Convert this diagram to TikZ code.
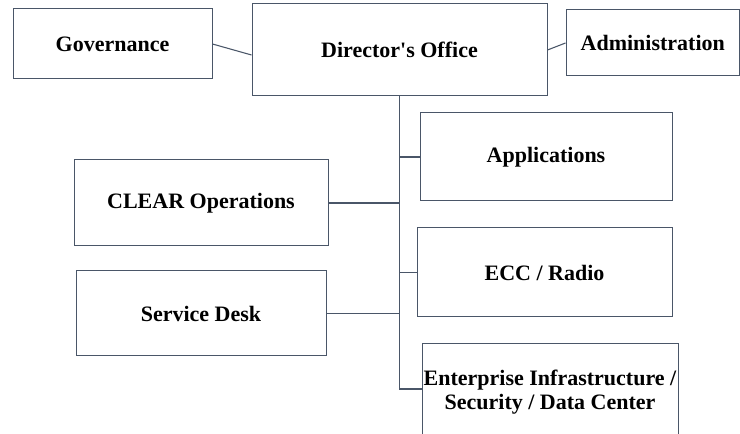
\documentclass[tikz,border=0pt]{standalone}
\usepackage{fontspec}
\setmainfont{Liberation Serif}
\definecolor{boxline}{HTML}{4A5668}

\begin{document}
\begin{tikzpicture}[x=0.75pt,y=-0.75pt,
    unit/.style = {draw=boxline, line width=0.75pt, fill=white, align=center,
                   inner sep=0pt, font=\bfseries\fontsize{16.5}{18}\selectfont},
    link/.style = {draw=boxline, line width=0.8pt}]
            \useasboundingbox (0,0) rectangle (740,434);
            % top row
            \node[unit, minimum width=149.25pt, minimum height=52.5pt] (gov) at (112.5,44) {Governance};
            \node[unit, minimum width=221.25pt, minimum height=69pt] (dir) at (399.5,50) {Director\textquotesingle s Office};
            \node[unit, minimum width=130.1pt, minimum height=49.5pt] (adm) at (652.75,43) {Administration};
            % units below
            \node[unit, minimum width=189pt, minimum height=66pt] (app) at (546,157) {Applications};
            \node[unit, minimum width=190.5pt, minimum height=64.5pt] (clear) at (201,203) {CLEAR Operations};
            \node[unit, minimum width=191.25pt, minimum height=66.75pt] (ecc) at (544.5,272.5) {ECC / Radio};
            \node[unit, minimum width=187.5pt, minimum height=63.75pt] (desk) at (201,313.5) {Service Desk};
            \node[unit, minimum width=192pt, minimum height=72pt] (ent) at (550,392) {Enterprise Infrastructure /\\Security / Data Center};
            \draw[link] (gov.east) -- ([yshift=-3.75pt]dir.west);
                \draw[link] (dir.east) -- (adm.west);
                \draw[link] (dir.south) |- ([yshift=2.25pt]ent.west);
                \draw[link] (app.west) -- (app.west -| dir.south);
                \draw[link] (clear.east) -- (clear.east -| dir.south);
                \draw[link] (ecc.west) -- (ecc.west -| dir.south);
                \draw[link] (desk.east) -- (desk.east -| dir.south);
        \end{tikzpicture}
\end{document}
